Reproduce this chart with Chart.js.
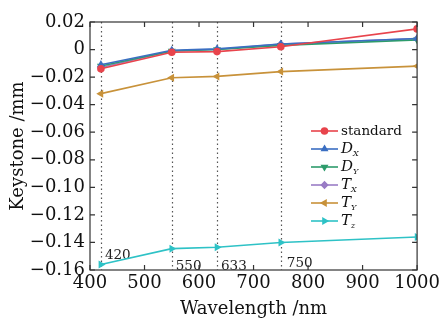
<!DOCTYPE html>
<html>
<head>
<meta charset="utf-8">
<script src="https://cdn.jsdelivr.net/npm/chart.js@4"></script>
<style>
  html, body { margin: 0; padding: 0; background: #fff; }
  #wrap { width: 443px; height: 320px; }
</style>
</head>
<body>
<div id="wrap"><canvas id="c"></canvas></div>
<script>
// wavelengths (nm)
const wavelengths = [420, 550, 633, 750, 1000];
const markLines = [420, 550, 633, 750];

// keystone values (mm)
const standardVals = [-0.014, -0.002, -0.0015, 0.002, 0.015];
const dxVals = [-0.011, -0.0005, 0.0005, 0.004, 0.008];
const dyVals = [-0.012, -0.001, 0.0, 0.003, 0.007];
const txVals = [-0.013, -0.001, 0.0, 0.004, 0.008];
const tyVals = [-0.032, -0.0205, -0.0195, -0.016, -0.012];
const tzVals = [-0.156, -0.1445, -0.1435, -0.140, -0.136];

const seriesNames = [['standard', ''], ['D', 'X'], ['D', 'Y'], ['T', 'X'], ['T', 'Y'], ['T', 'z']];
const seriesColors = ['#e8444c', '#3b6fc2', '#2e9c6c', '#9a7dc6', '#c8923a', '#2ec2c6'];
const seriesStyles = ['circle', 'triangle', 'triangle', 'rectRot', 'triangle', 'triangle'];
const seriesRot = [0, 0, 180, 0, -90, 90];
const seriesVals = [standardVals, dxVals, dyVals, txVals, tyVals, tzVals];

const serif = '"DejaVu Serif", "Liberation Serif", serif';

const datasets = seriesVals.map((vals, i) => ({
  label: seriesNames[i].join(''),
  data: vals.map((v, j) => ({ x: wavelengths[j], y: v })),
  borderColor: seriesColors[i],
  backgroundColor: seriesColors[i],
  borderWidth: 1.6,
  pointStyle: seriesStyles[i],
  rotation: seriesRot[i],
  pointRadius: 3,
  tension: 0
}));

// dotted wavelength guides, frame, inward ticks, legend
const decor = {
  id: 'decor',
  beforeDatasetsDraw(chart) {
    const { ctx, chartArea: a, scales: { x, y } } = chart;
    ctx.save();
    ctx.strokeStyle = '#555';
    ctx.lineWidth = 1.2;
    ctx.setLineDash([1.5, 3]);
    markLines.forEach(w => {
      const px = Math.round(x.getPixelForValue(w)) + 0.5;
      ctx.beginPath();
      ctx.moveTo(px, a.top);
      ctx.lineTo(px, a.bottom);
      ctx.stroke();
    });
    ctx.setLineDash([]);
    ctx.fillStyle = '#222';
    ctx.font = '13.5px ' + serif;
    ctx.textBaseline = 'middle';
    ctx.textAlign = 'left';
    ctx.fillText('420', x.getPixelForValue(420) + 4, y.getPixelForValue(-0.1495));
    ctx.fillText('550', x.getPixelForValue(550) + 4, y.getPixelForValue(-0.1575));
    ctx.fillText('633', x.getPixelForValue(633) + 4, y.getPixelForValue(-0.1575));
    ctx.fillText('750', x.getPixelForValue(750) + 6, y.getPixelForValue(-0.1555));
    ctx.restore();
  },
  afterDraw(chart) {
    const { ctx, chartArea: a, scales: { x, y } } = chart;
    ctx.save();
    ctx.strokeStyle = '#333';
    ctx.lineWidth = 1.2;
    ctx.strokeRect(a.left, a.top, a.right - a.left, a.bottom - a.top);
    ctx.beginPath();
    x.ticks.forEach(t => {
      const px = x.getPixelForValue(t.value);
      ctx.moveTo(px, a.bottom); ctx.lineTo(px, a.bottom - 5);
      ctx.moveTo(px, a.top); ctx.lineTo(px, a.top + 5);
    });
    y.ticks.forEach(t => {
      const py = y.getPixelForValue(t.value);
      ctx.moveTo(a.left, py); ctx.lineTo(a.left + 5, py);
      ctx.moveTo(a.right, py); ctx.lineTo(a.right - 5, py);
    });
    ctx.stroke();

    // legend
    const lx = 311, ly = 131, dy = 18;
    seriesNames.forEach((nm, i) => {
      const yy = ly + i * dy;
      ctx.strokeStyle = seriesColors[i];
      ctx.lineWidth = 1.6;
      ctx.beginPath();
      ctx.moveTo(lx, yy); ctx.lineTo(lx + 27, yy);
      ctx.stroke();
      Chart.helpers.drawPoint(ctx, {
        pointStyle: seriesStyles[i], radius: 3, rotation: seriesRot[i], borderWidth: 1
      }, lx + 13.5, yy);
      ctx.fillStyle = seriesColors[i];
      ctx.fill();
      ctx.fillStyle = '#111';
      ctx.textBaseline = 'middle';
      ctx.textAlign = 'left';
      if (nm[1] === '') {
        ctx.font = '13.5px ' + serif;
        ctx.fillText(nm[0], lx + 30, yy);
      } else {
        ctx.font = 'italic 15px ' + serif;
        ctx.fillText(nm[0], lx + 30, yy);
        const w = ctx.measureText(nm[0]).width;
        ctx.font = 'italic 8px ' + serif;
        ctx.fillText(nm[1], lx + 30 + w, yy + 5);
      }
    });
    ctx.restore();
  }
};

new Chart(document.getElementById('c'), {
  type: 'line',
  data: { datasets },
  options: {
    responsive: true,
    maintainAspectRatio: false,
    animation: false,
    layout: { padding: { top: 22, right: 25, left: 0, bottom: 0 } },
    plugins: { legend: { display: false }, tooltip: { enabled: false } },
    scales: {
      x: {
        type: 'linear', min: 400, max: 1000,
        grid: { display: false, drawTicks: false },
        border: { display: false },
        ticks: { stepSize: 100, color: '#111', padding: 3, font: { family: serif, size: 18 },
          callback: v => String(v) },
        title: { display: true, text: 'Wavelength /nm', color: '#111', padding: 0, font: { family: serif, size: 18 } },
        afterFit(s) { s.height = 50; }
      },
      y: {
        min: -0.16, max: 0.02,
        grid: { display: false, drawTicks: false },
        border: { display: false },
        ticks: {
          stepSize: 0.02, color: '#111', padding: 5, font: { family: serif, size: 18 },
          callback: v => {
            const r = Math.round(v * 100) / 100;
            if (r === 0) return '0';
            return r < 0 ? '\u2212' + Math.abs(r).toFixed(2) : r.toFixed(2);
          }
        },
        title: { display: true, text: 'Keystone /mm', color: '#111', padding: { top: 8, bottom: 0 }, font: { family: serif, size: 18 } },
        afterFit(s) { s.width = 90; }
      }
    }
  },
  plugins: [decor]
});
</script>
</body>
</html>
